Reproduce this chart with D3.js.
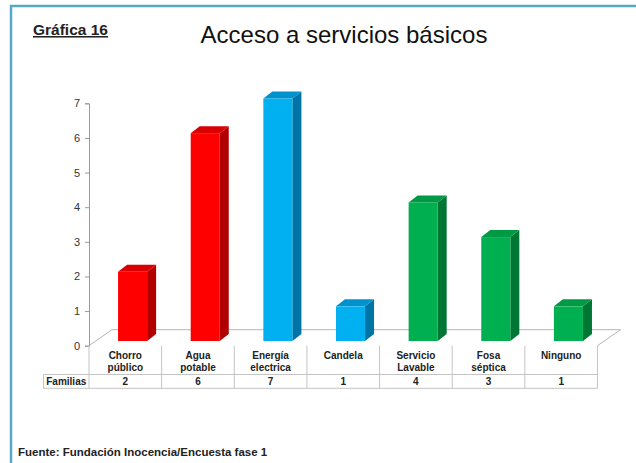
<!DOCTYPE html>
<html>
<head>
<meta charset="utf-8">
<script src="https://cdn.jsdelivr.net/npm/d3@7"></script>
<style>
  html, body { margin: 0; padding: 0; background: #fff; }
  svg { display: block; font-family: "Liberation Sans", Arial, sans-serif; }
</style>
</head>
<body>
<svg id="chart" width="636" height="463"></svg>
<script>
// Data
const categories = ["Chorro público", "Agua potable", "Energía electrica", "Candela", "Servicio Lavable", "Fosa séptica", "Ninguno"];
const labelLines = [["Chorro", "público"], ["Agua", "potable"], ["Energía", "electrica"], ["Candela"], ["Servicio", "Lavable"], ["Fosa", "séptica"], ["Ninguno"]];
const familias = [2, 6, 7, 1, 4, 3, 1];
const groups = ["agua", "agua", "luz", "luz", "sanea", "sanea", "sanea"];
const yTicks = [0, 1, 2, 3, 4, 5, 6, 7];
const rowHeader = "Familias";

const palette = {
  agua: { front: "#ff0000", side: "#b00000", top: "#d80000" },
  luz:  { front: "#00b0f0", side: "#0074a6", top: "#0092cc" },
  sanea:{ front: "#00b050", side: "#007634", top: "#009a44" }
};

const svg = d3.select("#chart");

// Frame
svg.append("path")
  .attr("d", "M11,463 L11,6 L636,6")
  .attr("fill", "none").attr("stroke", "#56a9c4").attr("stroke-width", 2.5);

// Headings
svg.append("text").attr("x", 33).attr("y", 35)
  .attr("font-size", 15.5).attr("font-weight", "bold").attr("fill", "#222")
  .attr("text-decoration", "underline").text("Gráfica 16");
svg.append("text").attr("x", 344).attr("y", 43).attr("text-anchor", "middle")
  .attr("font-size", 24).attr("fill", "#111").text("Acceso a servicios básicos");
svg.append("text").attr("x", 18).attr("y", 456)
  .attr("font-size", 11.5).attr("font-weight", "bold").attr("fill", "#222")
  .text("Fuente: Fundación Inocencia/Encuesta fase 1");

// Scales
const x0 = 89, x1 = 597.5;
const x = d3.scaleBand().domain(categories).range([x0, x1]).padding(0);
const step = x.bandwidth();
const axisY = d3.scaleLinear().domain([0, 7]).range([345.7, 103.3]);
const barY = d3.scaleLinear().domain([0, 7]).range([341, 98.5]);
const depthX = 9, depthY = -7;      // bar depth
const floorDX = 23, floorDY = -16;  // floor depth

// Floor
const floorFront = axisY(0);
svg.append("path")
  .attr("d", `M${x0},${floorFront} L${x0 + floorDX},${floorFront + floorDY} L${x1 + floorDX},${floorFront + floorDY} L${x1},${floorFront}`)
  .attr("fill", "none").attr("stroke", "#b5b5b5").attr("stroke-width", 1);

// Y axis
const yAxis = d3.axisLeft(axisY).tickValues(yTicks).tickSize(4).tickPadding(5).tickFormat(d3.format("d"));
const gAxis = svg.append("g").attr("transform", `translate(${x0},0)`).call(yAxis);
gAxis.select(".domain").attr("stroke", "#9a9a9a");
gAxis.selectAll(".tick line").attr("stroke", "#9a9a9a");
gAxis.selectAll(".tick text").attr("font-size", 11).attr("fill", "#333")
  .attr("font-family", "Liberation Sans, Arial, sans-serif");

// Bars (3D boxes)
const bars = svg.append("g").selectAll("g").data(categories).join("g");
bars.each(function (c, i) {
  const g = d3.select(this);
  const col = palette[groups[i]];
  const bx = x(c) + step * 0.4;
  const bw = step * 0.4;
  const yt = barY(familias[i]);
  const yb = barY(0);
  // side face
  g.append("path")
    .attr("d", `M${bx + bw},${yt} L${bx + bw + depthX},${yt + depthY} L${bx + bw + depthX},${yb + depthY} L${bx + bw},${yb} Z`)
    .attr("fill", col.side);
  // top face
  g.append("path")
    .attr("d", `M${bx},${yt} L${bx + depthX},${yt + depthY} L${bx + bw + depthX},${yt + depthY} L${bx + bw},${yt} Z`)
    .attr("fill", col.top);
  // front face
  g.append("rect").attr("x", bx).attr("y", yt).attr("width", bw).attr("height", yb - yt)
    .attr("fill", col.front);
});

// Data table
const tTop = floorFront, tMid = 374.5, tBot = 388.3, hdrLeft = 43.5;
const table = svg.append("g").attr("stroke", "#c4c4c4").attr("stroke-width", 1).attr("fill", "none");
table.append("line").attr("x1", hdrLeft).attr("x2", x1).attr("y1", tMid).attr("y2", tMid);
table.append("line").attr("x1", hdrLeft).attr("x2", x1).attr("y1", tBot).attr("y2", tBot);
table.append("line").attr("x1", hdrLeft).attr("x2", hdrLeft).attr("y1", tMid).attr("y2", tBot);
categories.forEach(c => {
  table.append("line").attr("x1", x(c)).attr("x2", x(c)).attr("y1", tTop).attr("y2", tBot);
});
table.append("line").attr("x1", x1).attr("x2", x1).attr("y1", tTop).attr("y2", tBot);

const labels = svg.append("g").attr("font-size", 10).attr("font-weight", "bold").attr("fill", "#222").attr("text-anchor", "middle");
categories.forEach((c, i) => {
  const cx = x(c) + step / 2;
  labelLines[i].forEach((ln, j) => {
    labels.append("text").attr("x", cx).attr("y", 359 + j * 11.5).text(ln);
  });
  labels.append("text").attr("x", cx).attr("y", 385).text(familias[i]);
});
labels.append("text").attr("x", (hdrLeft + x0) / 2).attr("y", 385).text(rowHeader);
</script>
</body>
</html>
